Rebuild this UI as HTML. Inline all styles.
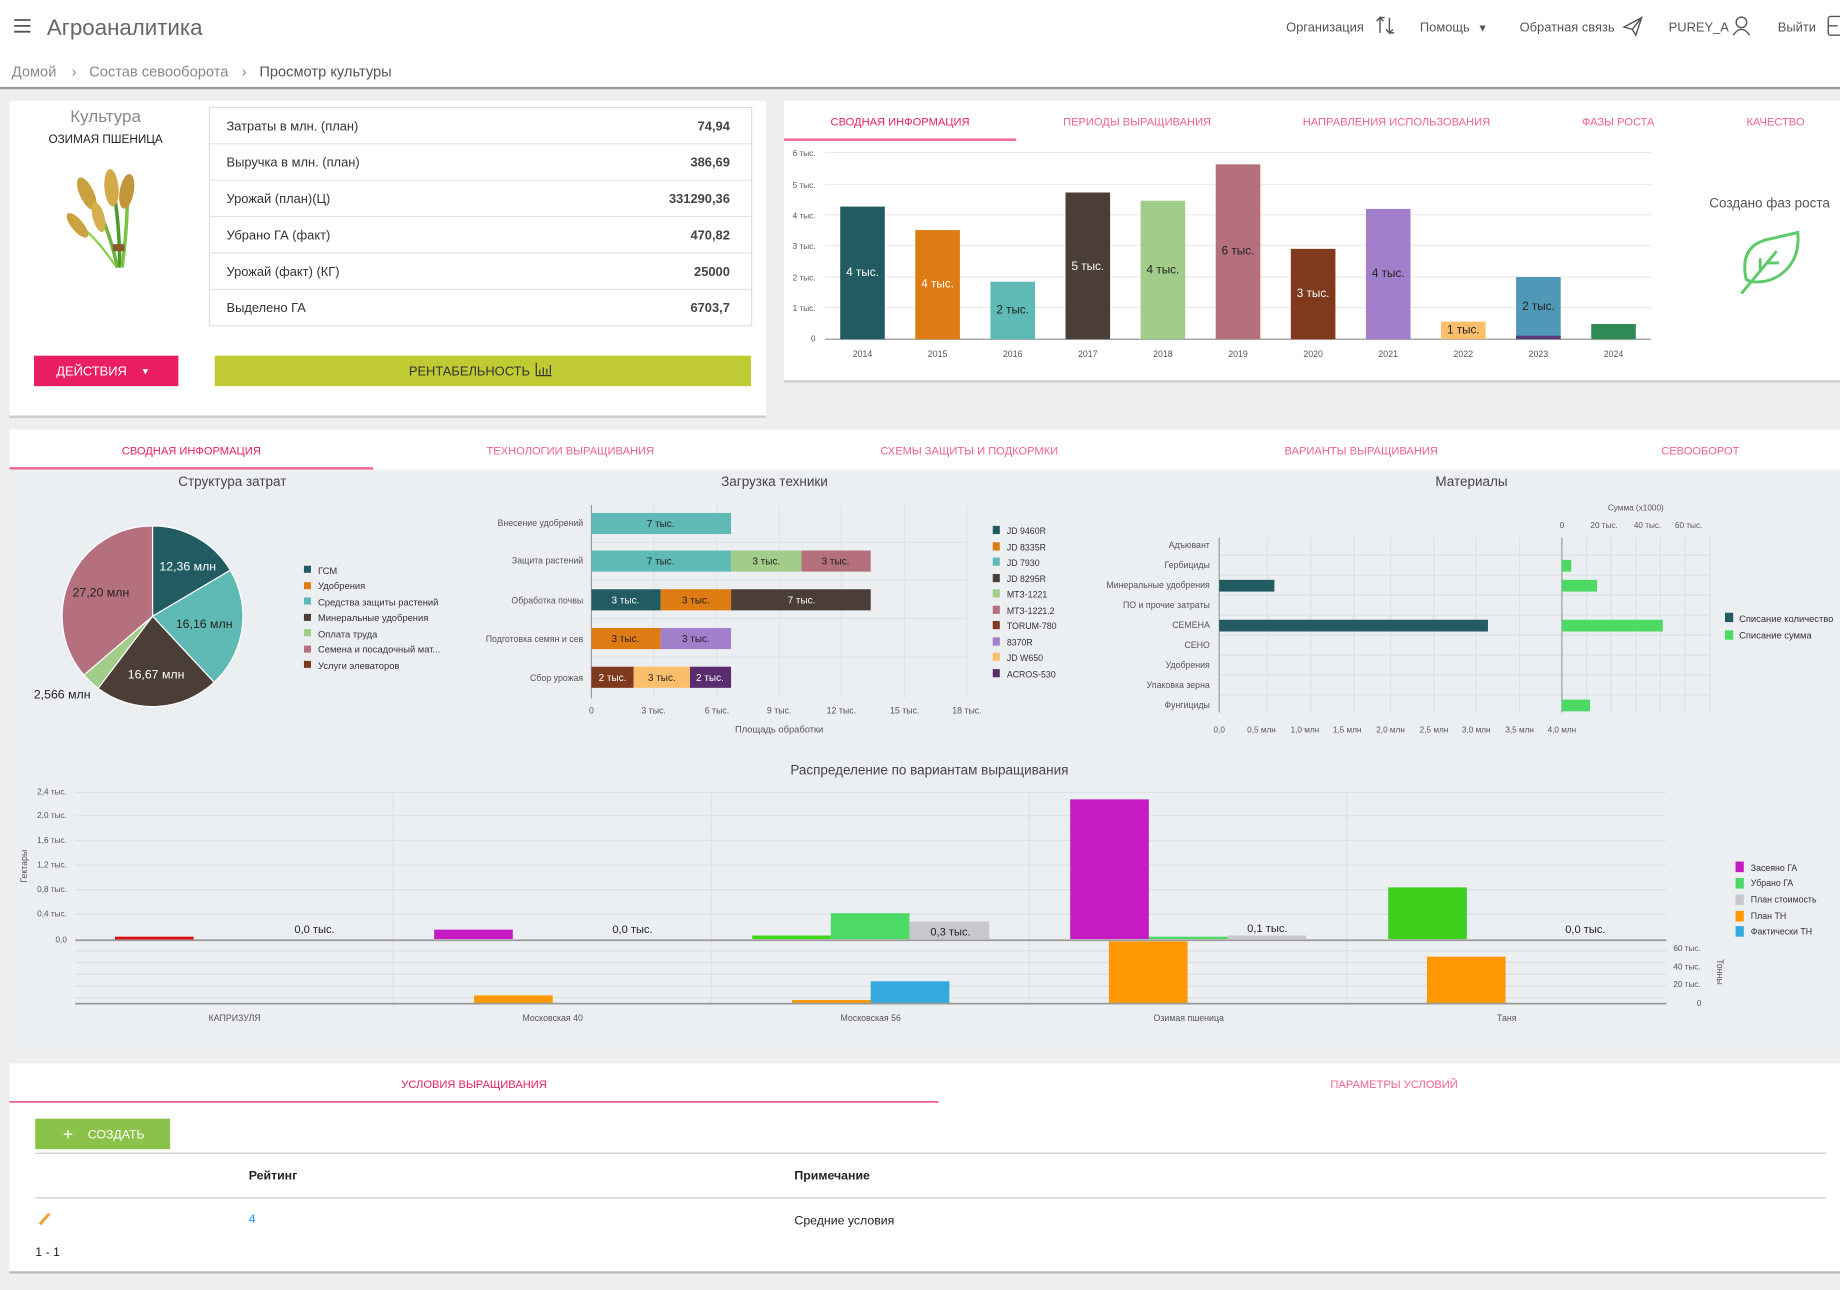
<!DOCTYPE html>
<html><head><meta charset="utf-8">
<style>
html,body{margin:0;padding:0;background:#eeeeee;}
svg{display:block;}
text{font-family:"Liberation Sans","Noto Sans CJK SC",sans-serif;}
</style></head>
<body>
<svg width="1840" height="1290" viewBox="0 0 1568 1099" preserveAspectRatio="none" xmlns="http://www.w3.org/2000/svg">
<rect width="1568" height="1099" fill="#eeeeee"/>
<!-- header -->
<rect x="0" y="0" width="1568" height="75" fill="#fff"/>
<rect x="0" y="74" width="1568" height="2" fill="#9a9a9a"/>
<g stroke="#555" stroke-width="1.5"><line x1="12" y1="17" x2="26" y2="17"/><line x1="12" y1="22" x2="26" y2="22"/><line x1="12" y1="27" x2="26" y2="27"/></g>
<text x="40" y="30" font-size="19" fill="#666">Агроаналитика</text>
<g font-size="11" fill="#555">
<text x="1096" y="27">Организация</text>
<text x="1210" y="27">Помощь</text><text x="1259" y="27" font-size="9">▼</text>
<text x="1295" y="27">Обратная связь</text>
<text x="1422" y="27">PUREY_A</text>
<text x="1515" y="27">Выйти</text>
</g>
<g fill="none" stroke="#555" stroke-width="1.2">
<path d="M1176 28 V15 l-3 3 M1176 15 l3 3 M1184 15 V28 l-3-3 M1184 28 l3-3 M1176 15 h4 M1184 28 h4"/>
<path d="M1384 23 l15-8 -5 15 -3-5z M1391 25 l8-10"/>
<circle cx="1484" cy="19" r="4.5"/><path d="M1477 30 q7-10 14 0"/>
<rect x="1558" y="14" width="12" height="16" rx="2"/><path d="M1558 22 h8"/>
</g>
<g font-size="12.5" fill="#888">
<text x="10" y="65">Домой</text><text x="61" y="65">›</text>
<text x="76" y="65">Состав севооборота</text><text x="206" y="65">›</text>
<text x="221" y="65" fill="#555">Просмотр культуры</text>
</g>

<!-- card 1 -->
<rect x="8" y="86" width="645" height="269" fill="#fff"/>
<rect x="8" y="354" width="645" height="2" fill="#ccc"/>
<text x="90" y="104" font-size="14.5" fill="#888" text-anchor="middle">Культура</text>
<text x="90" y="122" font-size="10" fill="#222" text-anchor="middle">ОЗИМАЯ ПШЕНИЦА</text>
<g>
<path d="M100 228 q-8-40 -28-70" stroke="#6ab43a" stroke-width="3" fill="none"/>
<path d="M102 228 q0-45 -8-80" stroke="#4e9a2a" stroke-width="3" fill="none"/>
<path d="M104 228 q6-45 4-78" stroke="#7cc443" stroke-width="3" fill="none"/>
<path d="M98 226 q-20-30 -40-40" stroke="#8fd050" stroke-width="2" fill="none"/>
<ellipse cx="74" cy="165" rx="6" ry="15" fill="#c9a13e" transform="rotate(-25 74 165)"/>
<ellipse cx="95" cy="160" rx="6" ry="16" fill="#d4aa48" transform="rotate(-5 95 160)"/>
<ellipse cx="108" cy="163" rx="6" ry="15" fill="#c29638" transform="rotate(10 108 163)"/>
<ellipse cx="66" cy="192" rx="5" ry="13" fill="#caa240" transform="rotate(-40 66 192)"/>
<ellipse cx="84" cy="185" rx="5" ry="13" fill="#d7b04e" transform="rotate(-15 84 185)"/>
<rect x="96" y="208" width="10" height="6" fill="#8a5a2b"/>
</g>
<rect x="178.5" y="91.5" width="462" height="186" fill="#fff" stroke="#ddd"/>
<g stroke="#e2e2e2"><line x1="179" y1="122.5" x2="640" y2="122.5"/><line x1="179" y1="153.5" x2="640" y2="153.5"/><line x1="179" y1="184.5" x2="640" y2="184.5"/><line x1="179" y1="215.5" x2="640" y2="215.5"/><line x1="179" y1="246.5" x2="640" y2="246.5"/></g>
<g font-size="11" fill="#333">
<text x="193" y="111">Затраты в млн. (план)</text>
<text x="193" y="142">Выручка в млн. (план)</text>
<text x="193" y="173">Урожай (план)(Ц)</text>
<text x="193" y="204">Убрано ГА (факт)</text>
<text x="193" y="235">Урожай (факт) (КГ)</text>
<text x="193" y="266">Выделено ГА</text>
</g>
<g font-size="11" fill="#444" font-weight="bold" text-anchor="end">
<text x="622" y="111">74,94</text><text x="622" y="142">386,69</text><text x="622" y="173">331290,36</text>
<text x="622" y="204">470,82</text><text x="622" y="235">25000</text><text x="622" y="266">6703,7</text>
</g>
<rect x="29" y="303" width="123" height="26" fill="#e91e63"/>
<text x="78" y="320" font-size="11" fill="#fff" text-anchor="middle">ДЕЙСТВИЯ</text><text x="120" y="319" font-size="8" fill="#fff">▼</text>
<rect x="183" y="303" width="457" height="26" fill="#c0ca33"/>
<text x="400" y="320" font-size="11" fill="#333" text-anchor="middle">РЕНТАБЕЛЬНОСТЬ</text>
<path d="M457 320 V309 M457 320 H470 M460 319 v-4 M463 319 v-6 M466 319 v-5 M469 319 v-8" stroke="#333" fill="none"/>

<!-- card 2 -->
<rect x="668" y="86" width="900" height="239" fill="#fff"/>
<rect x="668" y="324" width="900" height="2" fill="#ccc"/>
<g font-size="9.5" fill="#f06292" text-anchor="middle">
<text x="767" y="107" fill="#e91e63">СВОДНАЯ ИНФОРМАЦИЯ</text>
<text x="969" y="107">ПЕРИОДЫ ВЫРАЩИВАНИЯ</text>
<text x="1190" y="107">НАПРАВЛЕНИЯ ИСПОЛЬЗОВАНИЯ</text>
<text x="1379" y="107">ФАЗЫ РОСТА</text>
<text x="1513" y="107">КАЧЕСТВО</text>
</g>
<rect x="668" y="118" width="198" height="2" fill="#f06292"/>
<g stroke="#eaeaea"><line x1="703" y1="130" x2="1407" y2="130"/><line x1="703" y1="157" x2="1407" y2="157"/><line x1="703" y1="183" x2="1407" y2="183"/><line x1="703" y1="209" x2="1407" y2="209"/><line x1="703" y1="236" x2="1407" y2="236"/><line x1="703" y1="262" x2="1407" y2="262"/></g>
<line x1="703" y1="289" x2="1407" y2="289" stroke="#999"/>
<g font-size="7" fill="#555" text-anchor="end">
<text x="695" y="133">6 тыс.</text><text x="695" y="160">5 тыс.</text><text x="695" y="186">4 тыс.</text><text x="695" y="212">3 тыс.</text><text x="695" y="239">2 тыс.</text><text x="695" y="265">1 тыс.</text><text x="695" y="291">0</text>
</g>
<rect x="716" y="176" width="38" height="113" fill="#235b63"/>
<rect x="780" y="196" width="38" height="93" fill="#de7b12"/>
<rect x="844" y="240" width="38" height="49" fill="#5fbab5"/>
<rect x="908" y="164" width="38" height="125" fill="#4a3e36"/>
<rect x="972" y="171" width="38" height="118" fill="#a2cc8a"/>
<rect x="1036" y="140" width="38" height="149" fill="#b5707e"/>
<rect x="1100" y="212" width="38" height="77" fill="#7f3a1e"/>
<rect x="1164" y="178" width="38" height="111" fill="#a17fcb"/>
<rect x="1228" y="274" width="38" height="15" fill="#fbbf6b"/>
<rect x="1292" y="236" width="38" height="53" fill="#5098b7"/>
<rect x="1292" y="286" width="38" height="3" fill="#5a3a7a"/>
<rect x="1356" y="276" width="38" height="13" fill="#2f8a55"/>
<g font-size="10" text-anchor="middle" fill="#fff">
<text x="735" y="235">4 тыс.</text><text x="799" y="245">4 тыс.</text><text x="863" y="267" fill="#222">2 тыс.</text>
<text x="927" y="230">5 тыс.</text><text x="991" y="233" fill="#222">4 тыс.</text><text x="1055" y="217" fill="#222">6 тыс.</text>
<text x="1119" y="253">3 тыс.</text><text x="1183" y="236" fill="#222">4 тыс.</text><text x="1247" y="284" fill="#222">1 тыс.</text>
<text x="1311" y="264" fill="#222">2 тыс.</text>
</g>
<g font-size="7.5" fill="#555" text-anchor="middle">
<text x="735" y="304">2014</text><text x="799" y="304">2015</text><text x="863" y="304">2016</text><text x="927" y="304">2017</text><text x="991" y="304">2018</text><text x="1055" y="304">2019</text><text x="1119" y="304">2020</text><text x="1183" y="304">2021</text><text x="1247" y="304">2022</text><text x="1311" y="304">2023</text><text x="1375" y="304">2024</text>
</g>
<text x="1508" y="177" font-size="11.5" fill="#555" text-anchor="middle">Создано фаз роста</text>
<g fill="none" stroke="#5ec96a" stroke-width="2.5"><path d="M1488 238 q-6-28 18-34 q18-4 26-6 q2 20-10 32 q-12 12-30 10z"/><path d="M1484 250 l30-36 M1500 232 v-12 M1506 224 h10"/></g>

<!-- second section -->
<rect x="8" y="366" width="1560" height="34" fill="#fff"/>
<rect x="8" y="400" width="1560" height="494" fill="#eceff2"/>
<g font-size="9.5" fill="#f06292" text-anchor="middle">
<text x="163" y="387" fill="#e91e63">СВОДНАЯ ИНФОРМАЦИЯ</text>
<text x="486" y="387">ТЕХНОЛОГИИ ВЫРАЩИВАНИЯ</text>
<text x="826" y="387">СХЕМЫ ЗАЩИТЫ И ПОДКОРМКИ</text>
<text x="1160" y="387">ВАРИАНТЫ ВЫРАЩИВАНИЯ</text>
<text x="1449" y="387">СЕВООБОРОТ</text>
</g>
<rect x="8" y="398" width="310" height="2" fill="#f06292"/>

<!-- pie -->
<text x="198" y="414" font-size="11.5" fill="#444" text-anchor="middle">Структура затрат</text>
<g stroke="#fff" stroke-width="1">
<path d="M130 525 L130 448 A77 77 0 0 1 196.3 485.8Z" fill="#235b63"/>
<path d="M130 525 L196.3 485.8 A77 77 0 0 1 182.5 581.3Z" fill="#5fbab5"/>
<path d="M130 525 L182.5 581.3 A77 77 0 0 1 83.6 586.4Z" fill="#4a3e36"/>
<path d="M130 525 L83.6 586.4 A77 77 0 0 1 71.5 575.1Z" fill="#a2cc8a"/>
<path d="M130 525 L71.5 575.1 A77 77 0 0 1 130 448Z" fill="#b5707e"/>
</g>
<g font-size="10.5" text-anchor="middle">
<text x="160" y="486" fill="#fff">12,36 млн</text>
<text x="174" y="535" fill="#222">16,16 млн</text>
<text x="133" y="578" fill="#fff">16,67 млн</text>
<text x="86" y="508" fill="#222">27,20 млн</text>
<text x="53" y="595" fill="#222">2,566 млн</text>
</g>
<g font-size="8" fill="#333">
<rect x="259" y="482" width="6" height="6" fill="#235b63"/><text x="271" y="489">ГСМ</text>
<rect x="259" y="496" width="6" height="6" fill="#de7b12"/><text x="271" y="502">Удобрения</text>
<rect x="259" y="509" width="6" height="6" fill="#5fbab5"/><text x="271" y="516">Средства защиты растений</text>
<rect x="259" y="523" width="6" height="6" fill="#4a3e36"/><text x="271" y="529">Минеральные удобрения</text>
<rect x="259" y="536" width="6" height="6" fill="#a2cc8a"/><text x="271" y="543">Оплата труда</text>
<rect x="259" y="550" width="6" height="6" fill="#b5707e"/><text x="271" y="556">Семена и посадочный мат...</text>
<rect x="259" y="563" width="6" height="6" fill="#7f3a1e"/><text x="271" y="570">Услуги элеваторов</text>
</g>

<!-- Загрузка техники -->
<text x="660" y="414" font-size="11.5" fill="#444" text-anchor="middle">Загрузка техники</text>
<g stroke="#e0e3e6"><line x1="557" y1="430" x2="557" y2="595"/><line x1="611" y1="430" x2="611" y2="595"/><line x1="664" y1="430" x2="664" y2="595"/><line x1="717" y1="430" x2="717" y2="595"/><line x1="771" y1="430" x2="771" y2="595"/><line x1="824" y1="430" x2="824" y2="595"/>
<line x1="504" y1="462" x2="824" y2="462"/><line x1="504" y1="494" x2="824" y2="494"/><line x1="504" y1="527" x2="824" y2="527"/><line x1="504" y1="560" x2="824" y2="560"/></g>
<line x1="504" y1="430" x2="504" y2="595" stroke="#999"/>
<g font-size="8.5" text-anchor="middle">
<rect x="504" y="437" width="119" height="18" fill="#5fbab5"/><text x="563" y="449" fill="#222">7 тыс.</text>
<rect x="504" y="469" width="119" height="18" fill="#5fbab5"/><text x="563" y="481" fill="#222">7 тыс.</text>
<rect x="623" y="469" width="60" height="18" fill="#a2cc8a"/><text x="653" y="481" fill="#222">3 тыс.</text>
<rect x="683" y="469" width="59" height="18" fill="#b5707e"/><text x="712" y="481" fill="#222">3 тыс.</text>
<rect x="504" y="502" width="59" height="18" fill="#235b63"/><text x="533" y="514" fill="#fff">3 тыс.</text>
<rect x="563" y="502" width="60" height="18" fill="#de7b12"/><text x="593" y="514" fill="#222">3 тыс.</text>
<rect x="623" y="502" width="119" height="18" fill="#4a3e36"/><text x="683" y="514" fill="#fff">7 тыс.</text>
<rect x="504" y="535" width="59" height="18" fill="#de7b12"/><text x="533" y="547" fill="#222">3 тыс.</text>
<rect x="563" y="535" width="60" height="18" fill="#a17fcb"/><text x="593" y="547" fill="#222">3 тыс.</text>
<rect x="504" y="568" width="36" height="18" fill="#7f3a1e"/><text x="522" y="580" fill="#fff">2 тыс.</text>
<rect x="540" y="568" width="48" height="18" fill="#fbbf6b"/><text x="564" y="580" fill="#222">3 тыс.</text>
<rect x="588" y="568" width="35" height="18" fill="#5a2d6e"/><text x="605" y="580" fill="#fff">2 тыс.</text>
</g>
<g font-size="7.5" fill="#555" text-anchor="end">
<text x="497" y="448">Внесение удобрений</text><text x="497" y="480">Защита растений</text><text x="497" y="514">Обработка почвы</text><text x="497" y="547">Подготовка семян и сев</text><text x="497" y="580">Сбор урожая</text>
</g>
<g font-size="7.5" fill="#555" text-anchor="middle">
<text x="504" y="608">0</text><text x="557" y="608">3 тыс.</text><text x="611" y="608">6 тыс.</text><text x="664" y="608">9 тыс.</text><text x="717" y="608">12 тыс.</text><text x="771" y="608">15 тыс.</text><text x="824" y="608">18 тыс.</text>
<text x="664" y="624" font-size="8">Площадь обработки</text>
</g>
<g font-size="7.5" fill="#333">
<rect x="846" y="448" width="6" height="7" fill="#235b63"/><text x="858" y="455">JD 9460R</text>
<rect x="846" y="462" width="6" height="7" fill="#de7b12"/><text x="858" y="469">JD 8335R</text>
<rect x="846" y="475" width="6" height="7" fill="#5fbab5"/><text x="858" y="482">JD 7930</text>
<rect x="846" y="489" width="6" height="7" fill="#4a3e36"/><text x="858" y="496">JD 8295R</text>
<rect x="846" y="502" width="6" height="7" fill="#a2cc8a"/><text x="858" y="509">МТЗ-1221</text>
<rect x="846" y="516" width="6" height="7" fill="#b5707e"/><text x="858" y="523">МТЗ-1221.2</text>
<rect x="846" y="529" width="6" height="7" fill="#7f3a1e"/><text x="858" y="536">TORUM-780</text>
<rect x="846" y="543" width="6" height="7" fill="#a17fcb"/><text x="858" y="550">8370R</text>
<rect x="846" y="556" width="6" height="7" fill="#fbbf6b"/><text x="858" y="563">JD W650</text>
<rect x="846" y="570" width="6" height="7" fill="#5a2d6e"/><text x="858" y="577">ACROS-530</text>
</g>

<!-- Материалы -->
<text x="1254" y="414" font-size="11.5" fill="#444" text-anchor="middle">Материалы</text>
<g stroke="#dde0e4">
<line x1="1080" y1="458" x2="1080" y2="607"/><line x1="1117" y1="458" x2="1117" y2="607"/><line x1="1154" y1="458" x2="1154" y2="607"/><line x1="1185" y1="458" x2="1185" y2="607"/><line x1="1222" y1="458" x2="1222" y2="607"/><line x1="1258" y1="458" x2="1258" y2="607"/><line x1="1295" y1="458" x2="1295" y2="607"/>
<line x1="1352" y1="458" x2="1352" y2="607"/><line x1="1373" y1="458" x2="1373" y2="607"/><line x1="1394" y1="458" x2="1394" y2="607"/><line x1="1415" y1="458" x2="1415" y2="607"/><line x1="1436" y1="458" x2="1436" y2="607"/><line x1="1457" y1="458" x2="1457" y2="607"/>
<line x1="1039" y1="473" x2="1457" y2="473"/><line x1="1039" y1="490" x2="1457" y2="490"/><line x1="1039" y1="507" x2="1457" y2="507"/><line x1="1039" y1="524" x2="1457" y2="524"/><line x1="1039" y1="541" x2="1457" y2="541"/><line x1="1039" y1="558" x2="1457" y2="558"/><line x1="1039" y1="575" x2="1457" y2="575"/><line x1="1039" y1="592" x2="1457" y2="592"/>
</g>
<line x1="1039" y1="458" x2="1039" y2="607" stroke="#999"/>
<line x1="1331" y1="458" x2="1331" y2="607" stroke="#999"/>
<rect x="1039" y="494" width="47" height="10" fill="#235b63"/>
<rect x="1039" y="528" width="229" height="10" fill="#235b63"/>
<rect x="1331" y="477" width="8" height="10" fill="#4cd964"/>
<rect x="1331" y="494" width="30" height="10" fill="#4cd964"/>
<rect x="1331" y="528" width="86" height="10" fill="#4cd964"/>
<rect x="1331" y="596" width="24" height="10" fill="#4cd964"/>
<g font-size="7.5" fill="#555" text-anchor="end">
<text x="1031" y="467">Адъювант</text><text x="1031" y="484">Гербициды</text><text x="1031" y="501">Минеральные удобрения</text><text x="1031" y="518">ПО и прочие затраты</text><text x="1031" y="535">СЕМЕНА</text><text x="1031" y="552">СЕНО</text><text x="1031" y="569">Удобрения</text><text x="1031" y="586">Упаковка зерна</text><text x="1031" y="603">Фунгициды</text>
</g>
<g font-size="7" fill="#555" text-anchor="middle">
<text x="1039" y="624">0,0</text><text x="1075" y="624">0,5 млн</text><text x="1112" y="624">1,0 млн</text><text x="1148" y="624">1,5 млн</text><text x="1185" y="624">2,0 млн</text><text x="1222" y="624">2,5 млн</text><text x="1258" y="624">3,0 млн</text><text x="1295" y="624">3,5 млн</text><text x="1331" y="624">4,0 млн</text>
<text x="1331" y="450">0</text><text x="1367" y="450">20 тыс.</text><text x="1404" y="450">40 тыс.</text><text x="1439" y="450">60 тыс.</text>
<text x="1394" y="435">Сумма (x1000)</text>
</g>
<g font-size="8" fill="#333">
<rect x="1470" y="522" width="7" height="8" fill="#235b63"/><text x="1482" y="530">Списание количество</text>
<rect x="1470" y="537" width="7" height="8" fill="#4cd964"/><text x="1482" y="544">Списание сумма</text>
</g>

<!-- Распределение -->
<text x="792" y="660" font-size="11.5" fill="#444" text-anchor="middle">Распределение по вариантам выращивания</text>
<g stroke="#dde0e4">
<line x1="64" y1="675" x2="1420" y2="675"/><line x1="64" y1="695" x2="1420" y2="695"/><line x1="64" y1="716" x2="1420" y2="716"/><line x1="64" y1="737" x2="1420" y2="737"/><line x1="64" y1="758" x2="1420" y2="758"/><line x1="64" y1="779" x2="1420" y2="779"/>
<line x1="64" y1="810" x2="1420" y2="810"/><line x1="64" y1="820" x2="1420" y2="820"/><line x1="64" y1="830" x2="1420" y2="830"/><line x1="64" y1="840" x2="1420" y2="840"/><line x1="64" y1="850" x2="1420" y2="850"/>
<line x1="335" y1="675" x2="335" y2="855"/><line x1="606" y1="675" x2="606" y2="855"/><line x1="877" y1="675" x2="877" y2="855"/><line x1="1148" y1="675" x2="1148" y2="855"/>
</g>
<rect x="98" y="798" width="67" height="3" fill="#e01010"/>
<rect x="370" y="792" width="67" height="8" fill="#c51bc5"/>
<rect x="641" y="797" width="67" height="3" fill="#3fd61a"/>
<rect x="708" y="778" width="67" height="22" fill="#4cd964"/>
<rect x="775" y="785" width="68" height="15" fill="#c8c8cc"/>
<rect x="912" y="681" width="67" height="119" fill="#c51bc5"/>
<rect x="979" y="798" width="67" height="2" fill="#4cd964"/>
<rect x="1046" y="797" width="67" height="3" fill="#c8c8cc"/>
<rect x="1183" y="756" width="67" height="44" fill="#3ccf1c"/>
<rect x="404" y="848" width="67" height="7" fill="#ff9800"/>
<rect x="675" y="852" width="67" height="3" fill="#ff9800"/>
<rect x="742" y="836" width="67" height="19" fill="#33aadd"/>
<rect x="945" y="802" width="67" height="53" fill="#ff9800"/>
<rect x="1216" y="815" width="67" height="40" fill="#ff9800"/>
<line x1="64" y1="801" x2="1420" y2="801" stroke="#999" stroke-width="1.5"/>
<line x1="64" y1="855" x2="1420" y2="855" stroke="#999" stroke-width="1.5"/>
<g font-size="9.5" fill="#222" text-anchor="middle">
<text x="268" y="795">0,0 тыс.</text><text x="539" y="795">0,0 тыс.</text><text x="810" y="797">0,3 тыс.</text><text x="1080" y="794">0,1 тыс.</text><text x="1351" y="795">0,0 тыс.</text>
</g>
<g font-size="7" fill="#555" text-anchor="end">
<text x="57" y="677">2,4 тыс.</text><text x="57" y="697">2,0 тыс.</text><text x="57" y="718">1,6 тыс.</text><text x="57" y="739">1,2 тыс.</text><text x="57" y="760">0,8 тыс.</text><text x="57" y="781">0,4 тыс.</text><text x="57" y="803">0,0</text>
</g>
<g font-size="7" fill="#555">
<text x="1426" y="810">60 тыс.</text><text x="1426" y="826">40 тыс.</text><text x="1426" y="841">20 тыс.</text><text x="1446" y="857">0</text>
</g>
<text transform="translate(23 738) rotate(-90)" font-size="7.5" fill="#555" text-anchor="middle">Гектары</text>
<text transform="translate(1463 828) rotate(90)" font-size="7.5" fill="#555" text-anchor="middle">Тонны</text>
<g font-size="7.5" fill="#555" text-anchor="middle">
<text x="200" y="870">КАПРИЗУЛЯ</text><text x="471" y="870">Московская 40</text><text x="742" y="870">Московская 56</text><text x="1013" y="870">Озимая пшеница</text><text x="1284" y="870">Таня</text>
</g>
<g font-size="7.5" fill="#333">
<rect x="1479" y="734" width="7" height="9" fill="#c51bc5"/><text x="1492" y="742">Засеяно ГА</text>
<rect x="1479" y="748" width="7" height="9" fill="#4cd964"/><text x="1492" y="755">Убрано ГА</text>
<rect x="1479" y="762" width="7" height="9" fill="#c8c8cc"/><text x="1492" y="769">План стоимость</text>
<rect x="1479" y="776" width="7" height="9" fill="#ff9800"/><text x="1492" y="783">План ТН</text>
<rect x="1479" y="789" width="7" height="9" fill="#33aadd"/><text x="1492" y="796">Фактически ТН</text>
</g>

<!-- bottom card -->
<rect x="8" y="906" width="1560" height="178" fill="#fff"/>
<rect x="8" y="1083" width="1560" height="2" fill="#bbb"/>
<text x="404" y="927" font-size="9.5" fill="#e91e63" text-anchor="middle">УСЛОВИЯ ВЫРАЩИВАНИЯ</text>
<text x="1188" y="927" font-size="9.5" fill="#f06292" text-anchor="middle">ПАРАМЕТРЫ УСЛОВИЙ</text>
<rect x="8" y="938" width="792" height="1.5" fill="#f06292"/>
<rect x="30" y="953" width="115" height="26" fill="#8bc34a"/>
<text x="58" y="971" font-size="15" fill="#fff" text-anchor="middle">+</text>
<text x="99" y="970" font-size="10.5" fill="#fff" text-anchor="middle">СОЗДАТЬ</text>
<line x1="30" y1="982.5" x2="1556" y2="982.5" stroke="#ccc"/>
<text x="212" y="1005" font-size="10.5" font-weight="bold" fill="#222">Рейтинг</text>
<text x="677" y="1005" font-size="10.5" font-weight="bold" fill="#222">Примечание</text>
<line x1="30" y1="1020.5" x2="1556" y2="1020.5" stroke="#ccc"/>
<path d="M34 1043 l8-9" stroke="#f0a030" stroke-width="2.5"/>
<text x="212" y="1042" font-size="10.5" fill="#2196f3">4</text>
<text x="677" y="1043" font-size="10.5" fill="#222">Средние условия</text>
<text x="30" y="1070" font-size="10.5" fill="#222">1 - 1</text>
</svg>
</body></html>
